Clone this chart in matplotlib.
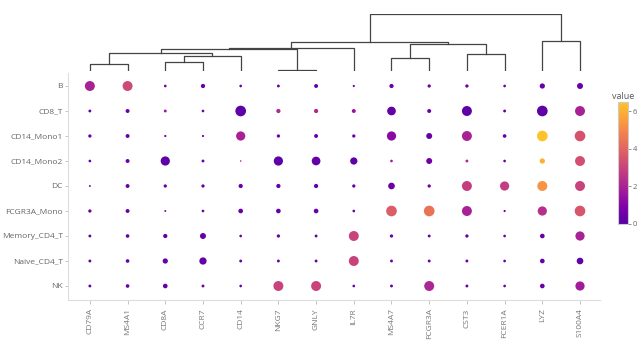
import numpy as np
import matplotlib
matplotlib.use('Agg')
import matplotlib.pyplot as plt
from matplotlib.colors import ListedColormap, Normalize
from matplotlib.cm import ScalarMappable

plt.rcParams['font.family'] = ['Open Sans', 'DejaVu Sans']

genes = ['CD79A', 'MS4A1', 'CD8A', 'CCR7', 'CD14', 'NKG7', 'GNLY', 'IL7R',
         'MS4A7', 'FCGR3A', 'CST3', 'FCER1A', 'LYZ', 'S100A4']
cell_types = ['B', 'CD8_T', 'CD14_Mono1', 'CD14_Mono2', 'DC', 'FCGR3A_Mono',
              'Memory_CD4_T', 'Naive_CD4_T', 'NK']

# mean expression per cell type (dot colour)
value_B = [2.0, 3.2, 0.6, 0.4, 0.5, 0.5, 0.4, 0.5, 0.5, 0.5, 0.4, 0.4, 0.4, 0.5]
value_CD8_T = [0.4, 0.4, 1.6, 0.5, 0.2, 2.2, 2.2, 1.5, 0.3, 0.4, 0.2, 0.4, 0.2, 2.0]
value_CD14_Mono1 = [0.4, 0.4, 0.5, 0.5, 2.0, 0.5, 0.5, 0.5, 1.2, 0.4, 2.0, 0.4, 6.4, 3.5]
value_CD14_Mono2 = [0.4, 0.4, 0.2, 0.4, 1.8, 0.2, 0.3, 0.2, 1.8, 0.6, 2.2, 0.5, 6.0, 3.4]
value_DC = [0.4, 0.4, 0.4, 0.4, 0.4, 0.4, 0.4, 0.4, 0.5, 0.4, 2.8, 2.8, 5.3, 3.0]
value_FCGR3A_Mono = [0.4, 0.4, 0.5, 0.5, 0.4, 0.4, 0.4, 0.4, 3.8, 4.4, 2.0, 0.4, 2.4, 3.6]
value_Memory_CD4_T = [0.4, 0.4, 0.4, 0.4, 0.4, 0.4, 0.4, 3.0, 0.4, 0.4, 0.4, 0.4, 0.4, 2.0]
value_Naive_CD4_T = [0.4, 0.4, 0.4, 0.3, 0.4, 0.4, 0.4, 3.0, 0.4, 0.4, 0.4, 0.4, 0.4, 0.3]
value_NK = [0.4, 0.4, 0.4, 0.4, 0.4, 3.0, 3.0, 0.4, 0.4, 2.1, 0.4, 0.4, 0.4, 1.8]

# percent of cells expressing (dot size)
pct_B = [83, 83, 6, 15, 6, 7, 13, 4, 15, 9, 9, 6, 23, 30]
pct_CD8_T = [7, 13, 7, 6, 95, 15, 15, 13, 63, 13, 83, 7, 95, 83]
pct_CD14_Mono1 = [9, 13, 4, 4, 71, 9, 13, 9, 71, 30, 83, 11, 95, 95]
pct_CD14_Mono2 = [6, 13, 71, 7, 2, 71, 63, 44, 6, 30, 7, 6, 23, 83]
pct_DC = [3, 13, 9, 9, 15, 15, 15, 9, 37, 9, 83, 71, 83, 83]
pct_FCGR3A_Mono = [9, 13, 3, 6, 18, 18, 18, 6, 95, 95, 83, 4, 71, 95]
pct_Memory_CD4_T = [7, 11, 15, 30, 6, 9, 7, 83, 9, 7, 9, 6, 18, 71]
pct_Naive_CD4_T = [7, 11, 23, 44, 7, 7, 7, 83, 7, 7, 7, 6, 18, 37]
pct_NK = [7, 11, 18, 7, 6, 83, 83, 6, 7, 83, 7, 6, 18, 71]

# gene dendrogram: (left node, right node, height); leaves are 0..13
merges = [(0, 1, 6.7), (2, 3, 8.7), (15, 4, 15.0), (14, 16, 17.7), (5, 6, 1.3),
          (17, 18, 22.0), (19, 7, 23.3), (8, 9, 13.3), (10, 11, 17.0),
          (21, 22, 27.0), (20, 23, 29.3), (12, 13, 30.0), (24, 25, 56.7)]

values = np.array([value_B, value_CD8_T, value_CD14_Mono1, value_CD14_Mono2, value_DC,
                   value_FCGR3A_Mono, value_Memory_CD4_T, value_Naive_CD4_T, value_NK])
pcts = np.array([pct_B, pct_CD8_T, pct_CD14_Mono1, pct_CD14_Mono2, pct_DC,
                 pct_FCGR3A_Mono, pct_Memory_CD4_T, pct_Naive_CD4_T, pct_NK])

# plasma without the darkest blue and the last yellow
cmap = ListedColormap(plt.cm.plasma(np.linspace(0.15, 0.88, 256)))
norm = Normalize(vmin=0, vmax=6.5)

W, H = 641, 345
fig = plt.figure(figsize=(W / 100, H / 100), dpi=100)
x0, x1 = 68, 600
ax = fig.add_axes([x0 / W, 1 - 300 / H, (x1 - x0) / W, (300 - 73) / H])
dax = fig.add_axes([x0 / W, 1 - 71 / H, (x1 - x0) / W, (71 - 14.3) / H])
cax = fig.add_axes([618 / W, 1 - 224 / H, 10 / W, 122 / H])

# dot plot
xx, yy = np.meshgrid(np.arange(len(genes)), np.arange(len(cell_types)))
ax.scatter(xx.ravel(), yy.ravel(), s=pcts.ravel() / 100 * 62, c=values.ravel(),
           cmap=cmap, norm=norm, linewidths=0)
ax.set_xlim(-0.58, 13.53)
ax.set_ylim(8.56, -0.52)
ax.set_xticks(range(len(genes)))
ax.set_xticklabels(genes, rotation=90, fontsize=6, color='#777')
ax.set_yticks(range(len(cell_types)))
ax.set_yticklabels(cell_types, fontsize=6.0, color='#666')
ax.tick_params(axis='y', length=2.5, width=0.6, color='#bbb', pad=1.2)
ax.tick_params(axis='x', length=3, width=0.6, color='#bbb', pad=3)
for side in ['top', 'right']:
    ax.spines[side].set_visible(False)
for side in ['left', 'bottom']:
    ax.spines[side].set_color('#ddd')
    ax.spines[side].set_linewidth(0.8)

# dendrogram drawn from the merge table
xpos = {i: float(i) for i in range(len(genes))}
hgt = {i: 0.0 for i in range(len(genes))}
for k, (a, b, h) in enumerate(merges):
    node = len(genes) + k
    dax.plot([xpos[a], xpos[a], xpos[b], xpos[b]], [hgt[a], h, h, hgt[b]],
             color='#444', lw=0.9)
    xpos[node] = (xpos[a] + xpos[b]) / 2
    hgt[node] = h
dax.set_xlim(-0.58, 13.53)
dax.set_ylim(0, 56.7)
dax.axis('off')

# colour bar
cb = fig.colorbar(ScalarMappable(norm=norm, cmap=cmap), cax=cax, ticks=[0, 2, 4, 6])
cb.outline.set_edgecolor('#ccc')
cb.outline.set_linewidth(0.8)
cax.tick_params(labelsize=5.5, colors='#666', length=2, width=0.5, pad=1.5)
cax.set_title('value', fontsize=6.5, color='#555', pad=2)

plt.savefig('out.png', dpi=100)
